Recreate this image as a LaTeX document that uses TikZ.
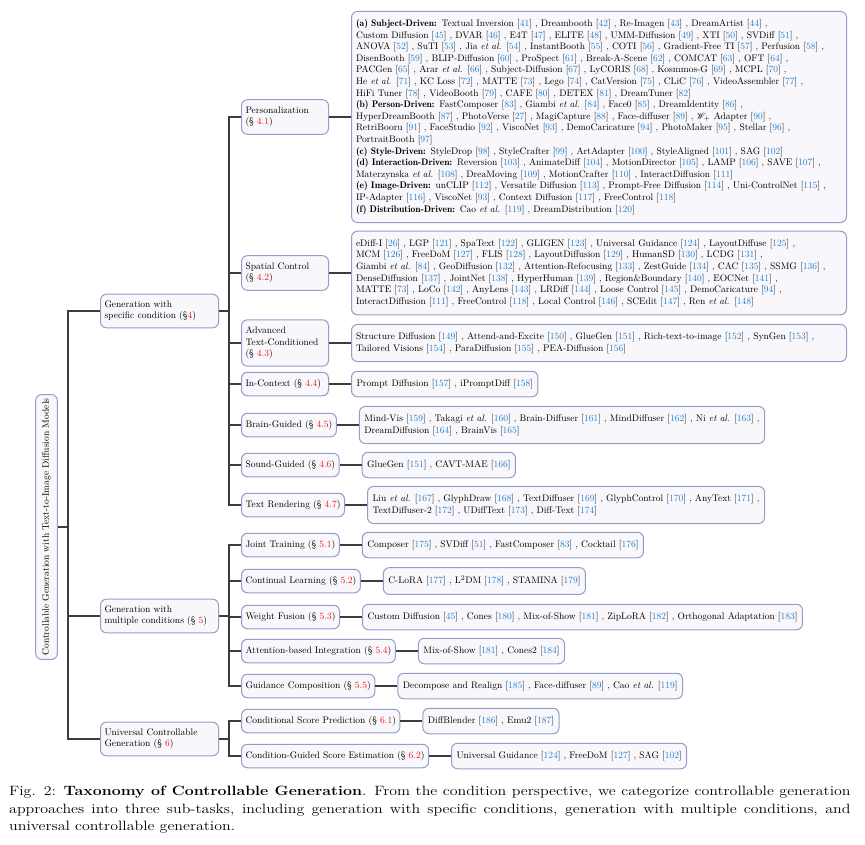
\documentclass[tikz,border=0pt]{standalone}
\usepackage{mathrsfs}
\usetikzlibrary{positioning}
\definecolor{boxline}{RGB}{150,155,200}
\definecolor{boxfill}{RGB}{248,248,252}
\definecolor{linkgray}{RGB}{60,60,60}
\definecolor{citeblue}{RGB}{35,125,200}
\definecolor{secred}{RGB}{240,20,20}
\newcommand{\citeno}[1]{[\textcolor{citeblue}{#1}]}
\newcommand{\secno}[1]{\textcolor{secred}{#1}}
\newcommand{\etal}{\textit{et al.}}
\newcommand{\grp}[1]{{\fontseries{b}\selectfont #1}}
\tikzset{
	box/.style={draw=boxline, fill=boxfill, line width=1pt, rounded corners=6pt, align=left, font=\fontsize{9.5}{11.6}\selectfont},
	rootbox/.style={box, rotate=90, inner xsep=4pt, inner ysep=6.5pt},
	topic/.style={box, text width=110pt, inner xsep=4pt, inner ysep=6.5pt, anchor=west},
	sub/.style={box, inner xsep=4pt, inner ysep=7pt, anchor=west},
	subw/.style={sub, text width=79pt},
	leaf/.style={box, inner xsep=5pt, inner ysep=8pt},
	leafw/.style={leaf, text width=486pt, inner xsep=4.5pt},
	link/.style={draw=linkgray, line width=1.6pt},
}
\begin{document}
\begin{tikzpicture}[x=1pt, y=-1pt]
		\useasboundingbox (0,0) rectangle (865,845);
		\node[rootbox] (root) at (46.5,527) {Controllable Generation with Text-to-Image Diffusion Models};
		
		\node[topic] (gen1) at (100,311) {Generation with\\specific condition (\S\secno{4})};
		\node[topic] (gen2) at (100,616) {Generation with\\multiple conditions (\S~\secno{5})};
		\node[topic] (gen3) at (100,739) {Universal Controllable\\Generation (\S~\secno{6})};
		
		\node[subw] (pers) at (241,117) {Personalization\\(\S~\secno{4.1})};
		\node[subw] (spat) at (241,273) {Spatial Control\\(\S~\secno{4.2})};
		\node[subw] (adv) at (241,343) {Advanced\\Text-Conditioned\\(\S~\secno{4.3})};
		\node[subw] (ctx) at (241,384) {In-Context (\S~\secno{4.4})};
		\node[sub] (brain) at (241,425) {Brain-Guided (\S~\secno{4.5})};
		\node[sub] (sound) at (241,465) {Sound-Guided (\S~\secno{4.6})};
		\node[sub] (textr) at (241,505) {Text Rendering (\S~\secno{4.7})};
		
		\node[sub] (joint) at (241,545) {Joint Training (\S~\secno{5.1})};
		\node[sub] (cont) at (241,581) {Continual Learning (\S~\secno{5.2})};
		\node[sub] (wfus) at (241,617) {Weight Fusion (\S~\secno{5.3})};
		\node[sub] (attn) at (241,651) {Attention-based Integration (\S~\secno{5.4})};
		\node[sub] (guid) at (241,686) {Guidance Composition (\S~\secno{5.5})};
		
		\node[sub] (csp) at (241,721) {Conditional Score Prediction (\S~\secno{6.1})};
		\node[sub] (cgse) at (241,756) {Condition-Guided Score Estimation (\S~\secno{6.2})};
		
		\node[leafw, right=22pt of pers] (perslist) {\grp{(a) Subject-Driven:} Textual Inversion \citeno{41} , Dreambooth \citeno{42} , Re-Imagen \citeno{43} , DreamArtist \citeno{44} ,\\
			Custom Diffusion \citeno{45} , DVAR \citeno{46} , E4T \citeno{47} , ELITE \citeno{48} , UMM-Diffusion \citeno{49} , XTI \citeno{50} , SVDiff \citeno{51} ,\\
			ANOVA \citeno{52} , SuTI \citeno{53} , Jia \etal{} \citeno{54} , InstantBooth \citeno{55} , COTI \citeno{56} , Gradient-Free TI \citeno{57} , Perfusion \citeno{58} ,\\
			DisenBooth \citeno{59} , BLIP-Diffusion \citeno{60} , ProSpect \citeno{61} , Break-A-Scene \citeno{62} , COMCAT \citeno{63} , OFT \citeno{64} ,\\
			PACGen \citeno{65} , Arar \etal{} \citeno{66} , Subject-Diffusion \citeno{67} , LyCORIS \citeno{68} , Kosmmos-G \citeno{69} , MCPL \citeno{70} ,\\
			He \etal{} \citeno{71} , KC Loss \citeno{72} , MATTE \citeno{73} , Lego \citeno{74} , CatVersion \citeno{75} , CLiC \citeno{76} , VideoAssembler \citeno{77} ,\\
			HiFi Tuner \citeno{78} , VideoBooth \citeno{79} , CAFE \citeno{80} , DETEX \citeno{81} , DreamTuner \citeno{82}\\
			\grp{(b) Person-Driven:} FastComposer \citeno{83} , Giambi \etal{} \citeno{84} , Face0 \citeno{85} , DreamIdentity \citeno{86} ,\\
			HyperDreamBooth \citeno{87} , PhotoVerse \citeno{27} , MagiCapture \citeno{88} , Face-diffuser \citeno{89} , $\mathscr{W}_{+}$ Adapter \citeno{90} ,\\
			RetriBooru \citeno{91} , FaceStudio \citeno{92} , ViscoNet \citeno{93} , DemoCaricature \citeno{94} , PhotoMaker \citeno{95} , Stellar \citeno{96} ,\\
			PortraitBooth \citeno{97}\\
			\grp{(c) Style-Driven:} StyleDrop \citeno{98} , StyleCrafter \citeno{99} , ArtAdapter \citeno{100} , StyleAligned \citeno{101} , SAG \citeno{102}\\
			\grp{(d) Interaction-Driven:} Reversion \citeno{103} , AnimateDiff \citeno{104} , MotionDirector \citeno{105} , LAMP \citeno{106} , SAVE \citeno{107} ,\\
			Materzynska \etal{} \citeno{108} , DreaMoving \citeno{109} , MotionCrafter \citeno{110} , InteractDiffusion \citeno{111}\\
			\grp{(e) Image-Driven:} unCLIP \citeno{112} , Versatile Diffusion \citeno{113} , Prompt-Free Diffusion \citeno{114} , Uni-ControlNet \citeno{115} ,\\
			IP-Adapter \citeno{116} , ViscoNet \citeno{93} , Context Diffusion \citeno{117} , FreeControl \citeno{118}\\
			\grp{(f) Distribution-Driven:} Cao \etal{} \citeno{119} , DreamDistribution \citeno{120}};
		\node[leafw, right=22pt of spat] (spatlist) {eDiff-I \citeno{26} , LGP \citeno{121} , SpaText \citeno{122} , GLIGEN \citeno{123} , Universal Guidance \citeno{124} , LayoutDiffuse \citeno{125} ,\\
			MCM \citeno{126} , FreeDoM \citeno{127} , FLIS \citeno{128} , LayoutDiffusion \citeno{129} , HumanSD \citeno{130} , LCDG \citeno{131} ,\\
			Giambi \etal{} \citeno{84} , GeoDiffusion \citeno{132} , Attention-Refocusing \citeno{133} , ZestGuide \citeno{134} , CAC \citeno{135} , SSMG \citeno{136} ,\\
			DenseDiffusion \citeno{137} , JointNet \citeno{138} , HyperHuman \citeno{139} , Region\&Boundary \citeno{140} , EOCNet \citeno{141} ,\\
			MATTE \citeno{73} , LoCo \citeno{142} , AnyLens \citeno{143} , LRDiff \citeno{144} , Loose Control \citeno{145} , DemoCaricature \citeno{94} ,\\
			InteractDiffusion \citeno{111} , FreeControl \citeno{118} , Local Control \citeno{146} , SCEdit \citeno{147} , Ren \etal{} \citeno{148}};
		\node[leafw, right=22pt of adv] (advlist) {Structure Diffusion \citeno{149} , Attend-and-Excite \citeno{150} , GlueGen \citeno{151} , Rich-text-to-image \citeno{152} , SynGen \citeno{153} ,\\
			Tailored Visions \citeno{154} , ParaDiffusion \citeno{155} , PEA-Diffusion \citeno{156}};
		\node[leaf, right=22pt of ctx] (ctxlist) {Prompt Diffusion \citeno{157} , iPromptDiff \citeno{158}};
		\node[leaf, right=22pt of brain] (brainlist) {Mind-Vis \citeno{159} , Takagi \etal{} \citeno{160} , Brain-Diffuser \citeno{161} , MindDiffuser \citeno{162} , Ni \etal{} \citeno{163} ,\\
			DreamDiffusion \citeno{164} , BrainVis \citeno{165}};
		\node[leaf, right=22pt of sound] (soundlist) {GlueGen \citeno{151} , CAVT-MAE \citeno{166}};
		\node[leaf, right=22pt of textr] (textrlist) {Liu \etal{} \citeno{167} , GlyphDraw \citeno{168} , TextDiffuser \citeno{169} , GlyphControl \citeno{170} , AnyText \citeno{171} ,\\
			TextDiffuser-2 \citeno{172} , UDiffText \citeno{173} , Diff-Text \citeno{174}};
		
		\node[leaf, right=22pt of joint] (jointlist) {Composer \citeno{175} , SVDiff \citeno{51} , FastComposer \citeno{83} , Cocktail \citeno{176}};
		\node[leaf, right=22pt of cont] (contlist) {C-LoRA \citeno{177} , L$^2$DM \citeno{178} , STAMINA \citeno{179}};
		\node[leaf, right=22pt of wfus] (wfuslist) {Custom Diffusion \citeno{45} , Cones \citeno{180} , Mix-of-Show \citeno{181} , ZipLoRA \citeno{182} , Orthogonal Adaptation \citeno{183}};
		\node[leaf, right=22pt of attn] (attnlist) {Mix-of-Show \citeno{181} , Cones2 \citeno{184}};
		\node[leaf, right=22pt of guid] (guidlist) {Decompose and Realign \citeno{185} , Face-diffuser \citeno{89} , Cao \etal{} \citeno{119}};
		\node[leaf, right=22pt of csp] (csplist) {DiffBlender \citeno{186} , Emu2 \citeno{187}};
		\node[leaf, right=22pt of cgse] (cgselist) {Universal Guidance \citeno{124} , FreeDoM \citeno{127} , SAG \citeno{102}};
		
		\foreach \g in {gen1,gen2,gen3}
			\draw[link] (root.south) -- +(10,0) |- (\g.west);
		\foreach \s in {pers,spat,adv,ctx,brain,sound,textr}
			\draw[link] (gen1.east) -- +(10,0) |- (\s.west);
		\foreach \s in {joint,cont,wfus,attn,guid}
			\draw[link] (gen2.east) -- +(10,0) |- (\s.west);
		\foreach \s in {csp,cgse}
			\draw[link] (gen3.east) -- +(10,0) |- (\s.west);
		\foreach \s in {pers,spat,adv,ctx,brain,sound,textr,joint,cont,wfus,attn,guid,csp,cgse}
			\draw[link] (\s.east) -- (\s list.west);
		
		\node[anchor=north west, xscale=1.18, transform shape, text width=713pt, align=justify, inner sep=0pt, font=\fontsize{13.5}{17.4}\selectfont] (caption) at (9,786) {Fig. 2: \textbf{Taxonomy of Controllable Generation}. From the condition perspective, we categorize controllable generation\linebreak approaches into three sub-tasks, including generation with specific conditions, generation with multiple conditions, and\linebreak universal controllable generation.};
\end{tikzpicture}
\end{document}
